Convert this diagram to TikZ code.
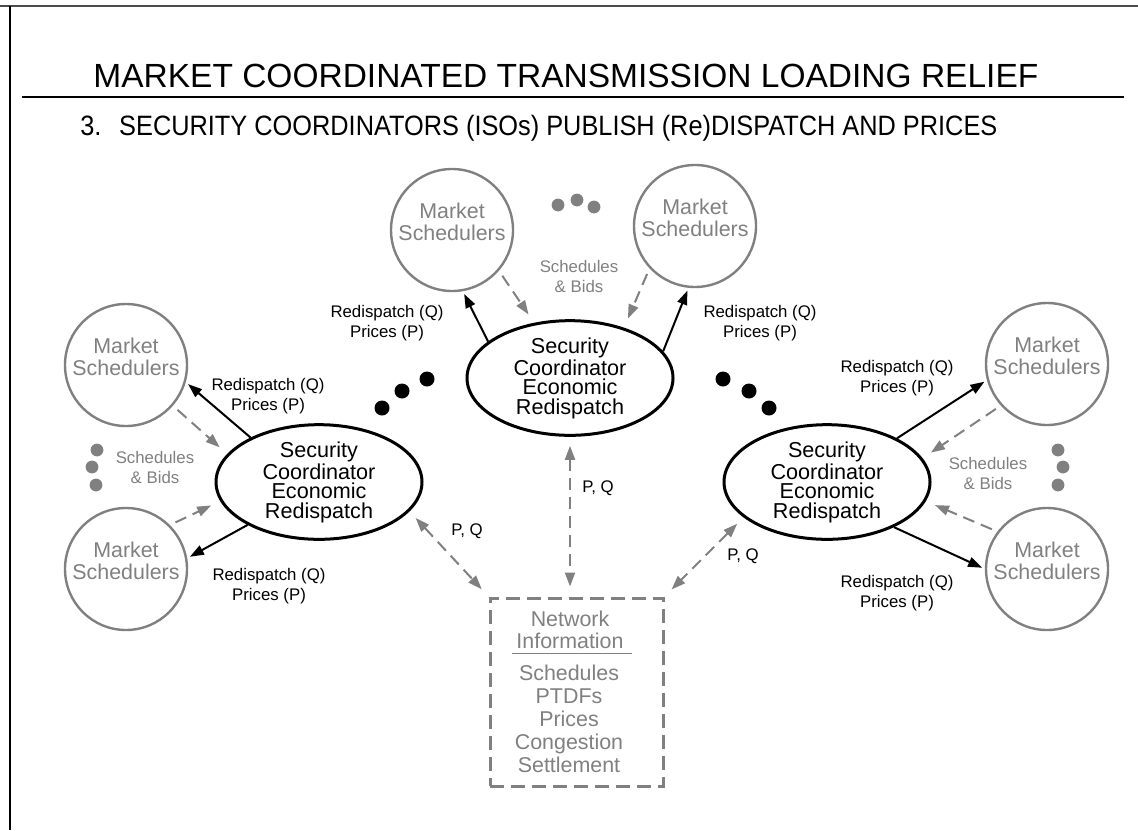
\documentclass[tikz,border=0pt]{standalone}
\usepackage{fontspec}
\setmainfont{Liberation Sans}
\usetikzlibrary{shapes.geometric,arrows.meta}
\definecolor{gris}{RGB}{128,128,128}

\begin{document}
\begin{tikzpicture}[x=0.5pt,y=-0.5pt]
  \tikzstyle{ordo}=[circle,draw=gris,line width=1.2pt,minimum size=61pt,inner sep=0pt]
  \tikzstyle{ordotxt}=[text=gris,align=center,inner sep=0pt,font=\fontsize{10.7}{11}\selectfont]
  \tikzstyle{coord}=[ellipse,draw,line width=1.5pt,minimum width=103pt,minimum height=50pt,inner sep=0pt,align=center,font=\fontsize{10.8}{9.7}\selectfont]
  \tikzstyle{etiq}=[align=center,inner sep=0pt,font=\fontsize{8.4}{10}\selectfont]
  \tikzstyle{envoi}=[-{Triangle[length=7pt,width=5pt]},line width=1pt,shorten >=1.5pt]
  \tikzstyle{offre}=[envoi,gris,dash pattern=on 6pt off 3.5pt,shorten >=5pt,shorten <=3pt]
  \tikzstyle{echange}=[{Triangle[length=7pt,width=5pt]}-{Triangle[length=7pt,width=5pt]},line width=1pt,gris,dash pattern=on 6pt off 3.5pt,shorten >=5pt,shorten <=4.5pt]
  \useasboundingbox (0,0) rectangle (1138,830);
  % cadre et titres
  \draw[line width=1pt,black!70] (0,6) -- (1138,6);
  \draw[line width=1.2pt] (10,6) -- (10,830);
  \node[anchor=base west,inner sep=0pt,font=\fontsize{16.75}{20}\selectfont] (titre) at (93,87) {MARKET COORDINATED TRANSMISSION LOADING RELIEF};
  \draw[line width=0.6pt] (22,97) -- (1124,97);
  \node[anchor=base west,inner sep=0pt,font=\fontsize{14}{17}\selectfont] (soustitre) at (80,135) {\scalebox{0.905}[1]{3.\hspace{0.7em}SECURITY COORDINATORS (ISOs) PUBLISH (Re)DISPATCH AND PRICES}};
  % coordinateurs
  \node[coord] (cg) at (319,482) {Security\\Coordinator\\Economic\\Redispatch};
  \node[coord] (cc) at (570,378) {Security\\Coordinator\\Economic\\Redispatch};
  \node[coord] (cd) at (827,482) {Security\\Coordinator\\Economic\\Redispatch};
  % market schedulers
  \node[ordo,label={[ordotxt,yshift=4pt]center:Market\\Schedulers}] (msg1) at (126,365) {};
  \node[ordo,label={[ordotxt,yshift=4pt]center:Market\\Schedulers}] (msg2) at (126,569) {};
  \node[ordo,label={[ordotxt,yshift=4pt]center:Market\\Schedulers}] (msc1) at (452,230) {};
  \node[ordo,label={[ordotxt,yshift=4pt]center:Market\\Schedulers}] (msc2) at (695,226) {};
  \node[ordo,label={[ordotxt,yshift=4pt]center:Market\\Schedulers}] (msd1) at (1047,364) {};
  \node[ordo,label={[ordotxt,yshift=4pt]center:Market\\Schedulers}] (msd2) at (1047,569) {};
  % network information
  \node[draw=gris,line width=1.5pt,dash pattern=on 7pt off 3.5pt,minimum width=86.5pt,minimum height=94pt] (net) at (576.5,692) {};
  \node[ordotxt] (netitre) at (570,630) {Network\\Information};
  \draw[gris,line width=0.5pt] (512,653) -- (632,653);
  \node[ordotxt,font=\fontsize{10.7}{11.5}\selectfont] (netliste) at (569,719) {Schedules\\PTDFs\\Prices\\Congestion\\Settlement};
  % fleches
  \draw[envoi] (cg.147) -- (msg1.-16);
  \draw[offre] (msg1.-41) -- (cg.163);
  \draw[offre] (msg2.45) -- (cg.191);
  \draw[envoi] (cg.211) -- (msg2.10);
  \draw[envoi] (cc.156) -- (msc1.-80);
  \draw[offre] (msc1.-41) -- (cc.123);
  \draw[offre] (msc2.223) -- (cc.43);
  \draw[envoi] (cc.16) -- (msc2.264);
  \draw[envoi] (cd.32) -- (msd1.195);
  \draw[offre] (msd1.222) -- (cd.14);
  \draw[offre] (msd2.143) -- (cd.-11);
  \draw[envoi] (cd.-34) -- (msd2.180);
  \draw[echange] (cg.-18) -- (net.north west);
  \draw[echange] (cc.south) -- (cc.south |- net.north);
  \draw[echange] (cd.203) -- (net.north east);
  % points
  \foreach \p in {(382,408),(402,391),(427,379),(723,379),(749,391),(769,408)}
    \fill \p circle (3.75pt);
  \foreach \p in {(558,205),(577,200),(594,207),(97,450),(92,467),(96,485),(1058,450),(1063,467),(1058,485)}
    \fill[gris] \p circle (3.2pt);
  % etiquettes
  \node[etiq] (rpg1) at (268,396.5) {Redispatch (Q)\\Prices (P)};
  \node[etiq] (rpg2) at (269,586) {Redispatch (Q)\\Prices (P)};
  \node[etiq] (rpc1) at (387,323) {Redispatch (Q)\\Prices (P)};
  \node[etiq] (rpc2) at (760,323) {Redispatch (Q)\\Prices (P)};
  \node[etiq] (rpd1) at (897,378) {Redispatch (Q)\\Prices (P)};
  \node[etiq] (rpd2) at (897,593) {Redispatch (Q)\\Prices (P)};
  \node[etiq,text=gris] (sbg) at (155,467) {Schedules\\\& Bids};
  \node[etiq,text=gris] (sbc) at (579,276.5) {Schedules\\\& Bids};
  \node[etiq,text=gris] (sbd) at (988,473) {Schedules\\\& Bids};
  \node[etiq] (pqg) at (467,531) {P, Q};
  \node[etiq] (pqc) at (598,488) {P, Q};
  \node[etiq] (pqd) at (743,556) {P, Q};
\end{tikzpicture}
\end{document}
